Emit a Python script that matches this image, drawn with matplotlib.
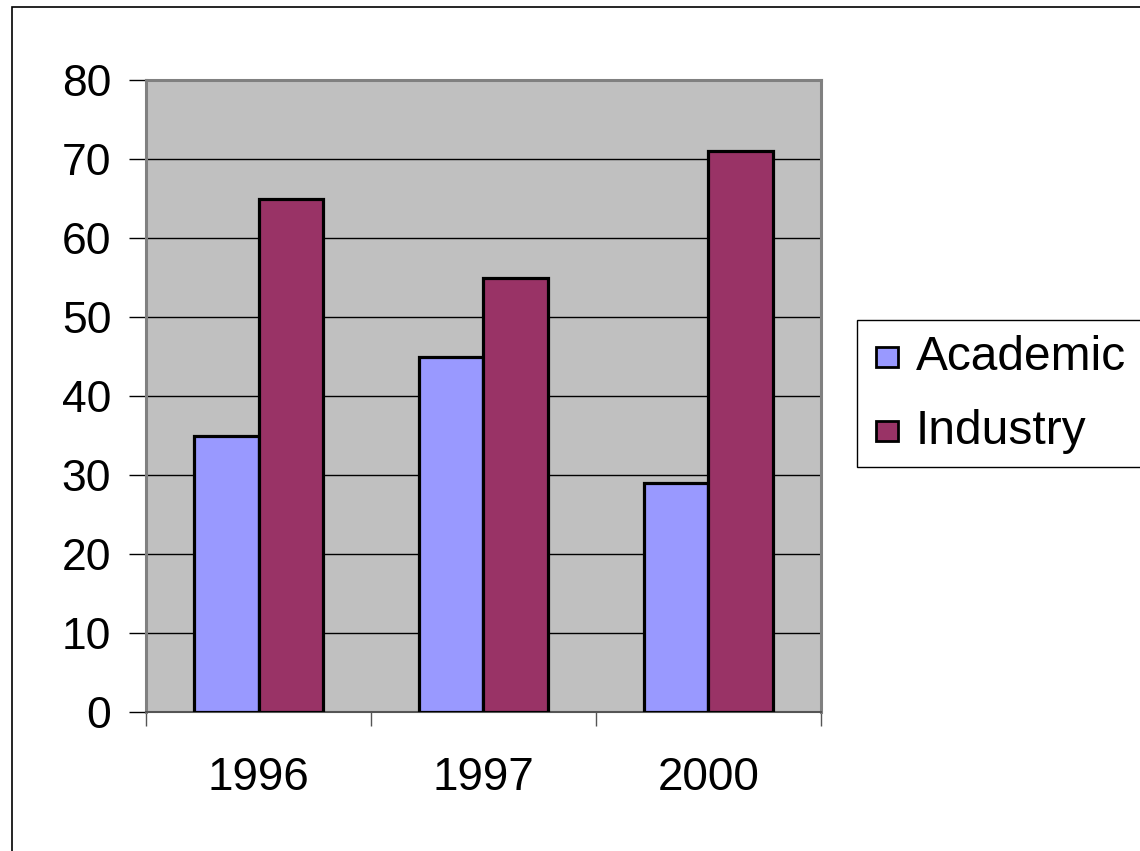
import matplotlib
matplotlib.use("Agg")
import matplotlib.pyplot as plt
from matplotlib.patches import Rectangle
import numpy as np

categories = ["1996", "1997", "2000"]
series_names = ["Academic", "Industry"]
academic = [35, 45, 29]
industry = [65, 55, 71]
colors = ["#9999FF", "#993366"]
yticks = [0, 10, 20, 30, 40, 50, 60, 70, 80]

W, H = 1140, 851
fig = plt.figure(figsize=(W / 100, H / 100), dpi=100)
plt.rcParams['font.family'] = ['Liberation Sans', 'DejaVu Sans']

def px(x0, y0, x1, y1):
    return [x0 / W, 1 - y1 / H, (x1 - x0) / W, (y1 - y0) / H]

# outer chart frame
fig.patches.append(Rectangle((12 / W, -0.1), 1.2, 1 - 7 / H + 0.1, transform=fig.transFigure,
                             fill=False, edgecolor="black", linewidth=1.2))

ax = fig.add_axes(px(146, 80, 821, 712))
ax.set_facecolor("#C0C0C0")
n = len(categories)
x = np.arange(n)
bw = 1 / 3.5
ax.bar(x - bw / 2, academic, width=bw, color=colors[0], edgecolor="black", linewidth=2.3, zorder=3)
ax.bar(x + bw / 2, industry, width=bw, color=colors[1], edgecolor="black", linewidth=2.3, zorder=3)
ax.set_xlim(-0.5, n - 0.5)
ax.set_ylim(0, 80)
ax.set_yticks(yticks)
ax.set_yticklabels([str(v) for v in yticks], fontsize=32)
ax.yaxis.grid(True, color="black", linewidth=1.0, zorder=1)
ax.set_axisbelow(True)
ax.set_xticks(np.arange(n + 1) - 0.5)
ax.set_xticklabels([])
ax.set_xticks(x, minor=True)
ax.set_xticklabels(categories, minor=True, fontsize=33)
ax.tick_params(axis="x", which="major", length=10, width=1, color="#555555", direction="out")
ax.tick_params(axis="x", which="minor", length=0, pad=32)
ax.tick_params(axis="y", length=12, width=1, color="black", pad=13, direction="out")
for s in ["left", "top", "right"]:
    ax.spines[s].set_color("#808080")
    ax.spines[s].set_linewidth(2.2)
ax.spines["bottom"].set_color("#555555")
ax.spines["bottom"].set_linewidth(1.5)

# legend
fig.patches.append(Rectangle((857 / W, 1 - 467 / H), 0.5, (467 - 320) / H, transform=fig.transFigure,
                             facecolor="white", edgecolor="black", linewidth=1.0))
ycent = [357, 431]
for name, c, yc in zip(series_names, colors, ycent):
    fig.patches.append(Rectangle((876 / W, 1 - (yc + 10) / H), 22 / W, 20 / H, transform=fig.transFigure,
                                 facecolor=c, edgecolor="black", linewidth=2.0))
    fig.text(916 / W, 1 - yc / H, name, fontsize=34.5, va="center", ha="left")

fig.savefig("out.png", dpi=100)
